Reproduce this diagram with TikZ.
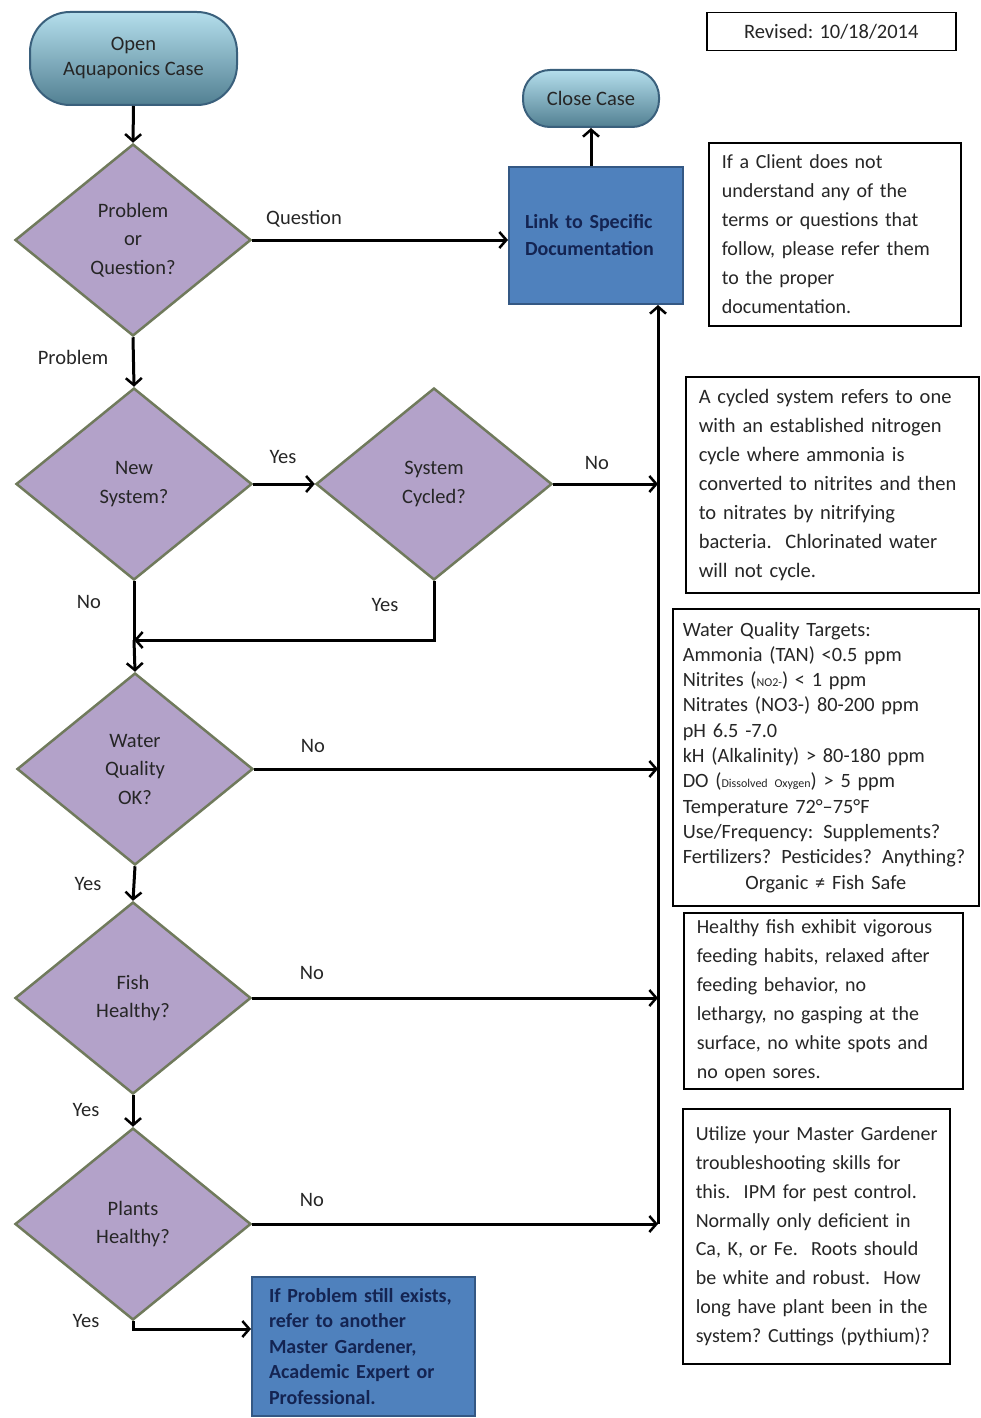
\documentclass[tikz,border=0pt]{standalone}
\usepackage{fontspec}
\setmainfont{Carlito}
\usetikzlibrary{shapes.geometric,arrows.meta}

\definecolor{decfill}{RGB}{179,162,201}
\definecolor{decline}{RGB}{112,122,92}
\definecolor{termtop}{RGB}{180,222,236}
\definecolor{termbot}{RGB}{82,128,146}
\definecolor{termline}{RGB}{58,96,124}
\definecolor{procfill}{RGB}{79,129,189}
\definecolor{procline}{RGB}{52,88,132}
\definecolor{proctext}{RGB}{20,36,82}
\definecolor{ink}{RGB}{38,38,38}

\begin{document}
\begin{tikzpicture}[x=1pt,y=-1pt,
  every node/.style={text=ink},
  decision/.style={diamond, draw=decline, line width=2.5pt, fill=decfill,
    minimum width=236pt, minimum height=192pt, inner sep=0pt, align=center,
    font=\fontsize{20.5}{28.5}\selectfont},
  terminal/.style={rectangle, draw=termline, line width=2pt, top color=termtop,
    bottom color=termbot, align=center, inner sep=0pt,
    font=\fontsize{20.5}{25}\selectfont},
  process/.style={rectangle, draw=procline, line width=2pt, fill=procfill,
    text=proctext, align=left, anchor=north west, inner ysep=0pt,
    execute at begin node={\hyphenpenalty=10000\exhyphenpenalty=10000}},
  note/.style={rectangle, draw=black, line width=1.5pt, fill=white, align=left,
    inner ysep=0pt, anchor=north west,
    execute at begin node={\hyphenpenalty=10000\exhyphenpenalty=10000}},
  flow/.style={draw=black, line width=3pt,
    -{Straight Barb[length=7pt,width=16pt,line width=2.5pt]}},
  plain/.style={draw=black, line width=3pt},
  lbl/.style={inner sep=0pt, font=\fontsize{20.5}{22}\selectfont}
]
\useasboundingbox (0,0) rectangle (980,1418);

% terminals
\node[terminal, minimum width=207pt, minimum height=93pt, rounded corners=40pt]
  (start) at (133.5,58.5) {Open\\Aquaponics Case};
\node[terminal, minimum width=136pt, minimum height=57pt, rounded corners=27pt]
  (close) at (591,98.5) {Close Case};

% decisions
\node[decision] (dq)     at (133,240)  {Problem\\or\\Question?};
\node[decision] (dnew)   at (134,484)  {New\\System?};
\node[decision] (dcyc)   at (434,484)  {System\\Cycled?};
\node[decision] (dwq)    at (135,769)  {Water\\Quality\\OK?};
\node[decision] (dfish)  at (133,998)  {Fish\\Healthy?};
\node[decision] (dplant) at (133,1224) {Plants\\Healthy?};

% process boxes
\node[process, minimum width=174pt, minimum height=137pt, text width=142pt,
  inner xsep=16pt, font=\bfseries\fontsize{20}{27}\selectfont]
  (link) at (508,166) {Link to Specific\\Documentation};
\node[process, minimum width=223pt, minimum height=139pt, text width=189pt,
  inner xsep=17pt, font=\bfseries\fontsize{20}{25.5}\selectfont]
  (final) at (251,1276)
  {If Problem still exists,\\refer to another\\Master Gardener,\\Academic Expert or\\Professional.};

% notes
\node[note, minimum width=249pt, minimum height=38pt, inner xsep=0pt, align=center,
  font=\fontsize{20.5}{22}\selectfont] (rev) at (706,12) {Revised: 10/18/2014};

\node[note, minimum height=183pt, text width=226pt, inner xsep=13pt,
  font=\fontsize{20}{29}\selectfont] (n1) at (708,142)
  {If a Client does not\\understand any of the\\terms or questions that\\follow, please refer them\\to the proper\\documentation.};

\node[note, minimum height=216pt, text width=267pt, inner xsep=13pt,
  font=\fontsize{20.5}{29}\selectfont] (n2) at (685,376)
  {A cycled system refers to one\\with an established nitrogen\\cycle where ammonia is\\converted to nitrites and then\\to nitrates by nitrifying\\bacteria.\ \ Chlorinated water\\will not cycle.};

\node[note, minimum height=297pt, text width=286pt, inner xsep=10pt,
  font=\fontsize{20.3}{25.3}\selectfont] (n3) at (672,608)
  {Water Quality Targets:\\
   Ammonia (TAN) <0.5 ppm\\
   Nitrites ({\fontsize{12}{12}\selectfont NO2-}) < 1 ppm\\
   Nitrates (NO3-) 80-200 ppm\\
   pH 6.5 -7.0\\
   kH (Alkalinity) > 80-180 ppm\\
   DO ({\fontsize{12}{12}\selectfont Dissolved Oxygen}) > 5 ppm\\
   Temperature 72°–75°F\\
   Use/Frequency: Supplements?\\
   Fertilizers? Pesticides? Anything?\\
   \makebox[286pt][c]{Organic ≠ Fish Safe}};

\node[note, minimum height=176pt, text width=253pt, inner xsep=13pt,
  font=\fontsize{20}{29}\selectfont] (n4) at (683,912)
  {Healthy fish exhibit vigorous\\feeding habits, relaxed after\\feeding behavior, no\\lethargy, no gasping at the\\surface, no white spots and\\no open sores.};

\node[note, minimum height=255pt, text width=241pt, inner xsep=13pt,
  font=\fontsize{20}{28.8}\selectfont] (n5) at (682,1108)
  {\mbox{Utilize your Master Gardener}\\troubleshooting skills for\\this.\ \ IPM for pest control.\\Normally only deficient in\\Ca, K, or Fe.\ \ Roots should\\be white and robust.\ \ How\\long have plant been in the\\system?\ Cuttings (pythium)?};

% points on the return line to the documentation box
\coordinate (bcyc)   at (658,484);
\coordinate (bwq)    at (658,769);
\coordinate (bfish)  at (658,998);
\coordinate (bplant) at (658,1224);
\coordinate (join)   at (134,640);

% connectors
\draw[flow] (start.south) -- (dq.north);
\draw[flow] (dq.east) -- (dq.east -| link.west);
\draw[flow] (link.north -| close.south) -- (close.south);
\draw[flow] (dq.south) -- (dnew.north);
\draw[flow] (dnew.east) -- (dcyc.west);
\draw[flow] (dcyc.east) -- (bcyc);
\draw[plain] (dnew.south) -- (join);
\draw[flow] (dcyc.south) |- (join);
\draw[flow] (join) -- (dwq.north);
\draw[flow] (dwq.east) -- (bwq);
\draw[flow] (dwq.south) -- (dfish.north);
\draw[flow] (dfish.east) -- (bfish);
\draw[flow] (dfish.south) -- (dplant.north);
\draw[flow] (dplant.east) -- (bplant);
\draw[flow] (dplant.south) |- ([yshift=17.5pt]final.west);
\draw[flow] (bplant) -- (bplant |- link.south);

% branch labels
\node[lbl] (lq)  at (304,219)  {Question};
\node[lbl] (lp)  at (73,357)   {Problem};
\node[lbl] (l1)  at (283,457)  {Yes};
\node[lbl] (l2)  at (597,463)  {No};
\node[lbl] (l3)  at (89,602)   {No};
\node[lbl] (l4)  at (385,605)  {Yes};
\node[lbl] (l5)  at (313,746)  {No};
\node[lbl] (l6)  at (88,884)   {Yes};
\node[lbl] (l7)  at (312,973)  {No};
\node[lbl] (l8)  at (86,1110)  {Yes};
\node[lbl] (l9)  at (312,1200) {No};
\node[lbl] (l10) at (86,1321)  {Yes};
\end{tikzpicture}
\end{document}
